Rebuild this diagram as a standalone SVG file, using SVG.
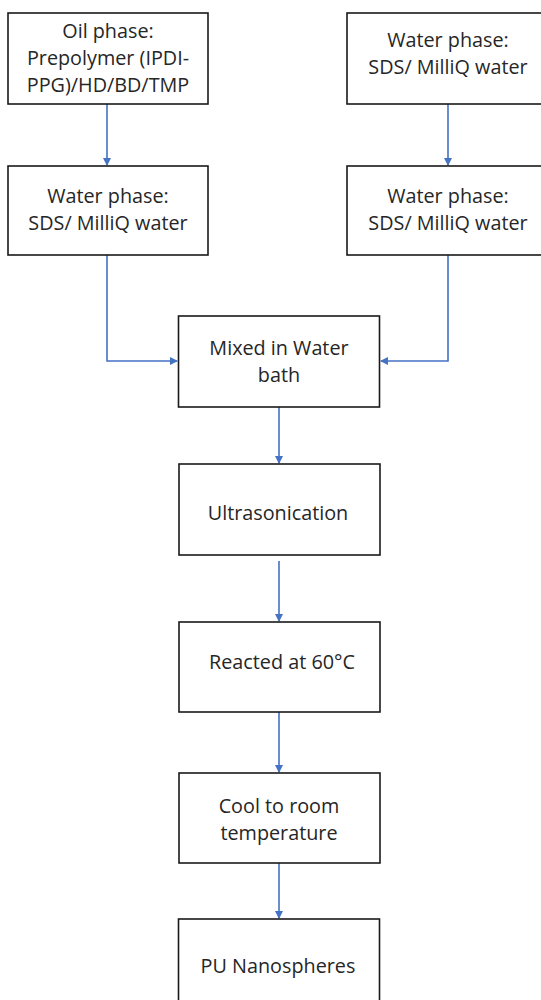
<svg xmlns="http://www.w3.org/2000/svg" width="541" height="1000" viewBox="0 0 541 1000">
<style>
.box{fill:#fff;stroke:#1a1a1a;stroke-width:1.6}
.t{font-family:"Open Sans","Noto Sans",sans-serif;font-size:19.8px;fill:#262626;text-anchor:middle}
.c{fill:none;stroke:#4472C4;stroke-width:1.6}
</style>
<defs>
<marker id="ah" markerWidth="8" markerHeight="8" refX="7" refY="4" orient="auto" markerUnits="userSpaceOnUse">
<path d="M0,0 L8,4 L0,8 Z" fill="#4472C4"/>
</marker>
</defs>
<rect width="541" height="1000" fill="#fff"/>
<g id="connectors">
<path class="c" d="M107,104 V165" marker-end="url(#ah)"/>
<path class="c" d="M448,104 V165" marker-end="url(#ah)"/>
<path class="c" d="M107,255 V361 H177" marker-end="url(#ah)"/>
<path class="c" d="M448,255 V361 H381" marker-end="url(#ah)"/>
<path class="c" d="M279,403 V463" marker-end="url(#ah)"/>
<path class="c" d="M279,561 V621" marker-end="url(#ah)"/>
<path class="c" d="M279,712 V772" marker-end="url(#ah)"/>
<path class="c" d="M279,858 V918" marker-end="url(#ah)"/>
</g>
<g id="oil">
<rect class="box" x="8" y="13" width="200" height="91"/>
<text class="t" x="108" y="38">Oil phase:</text>
<text class="t" x="108" y="65">Prepolymer (IPDI-</text>
<text class="t" x="108" y="92">PPG)/HD/BD/TMP</text>
</g>
<g id="water-left">
<rect class="box" x="8" y="166" width="200" height="89"/>
<text class="t" x="108" y="203">Water phase:</text>
<text class="t" x="108" y="230">SDS/ MilliQ water</text>
</g>
<g id="water-right-1">
<rect class="box" x="347" y="13" width="202" height="91"/>
<text class="t" x="448" y="47">Water phase:</text>
<text class="t" x="448" y="74">SDS/ MilliQ water</text>
</g>
<g id="water-right-2">
<rect class="box" x="347" y="166" width="202" height="89"/>
<text class="t" x="448" y="203">Water phase:</text>
<text class="t" x="448" y="230">SDS/ MilliQ water</text>
</g>
<g id="mixed">
<rect class="box" x="178.5" y="316" width="201" height="91"/>
<text class="t" x="279" y="355">Mixed in Water</text>
<text class="t" x="279" y="382">bath</text>
</g>
<g id="ultra">
<rect class="box" x="179" y="464" width="201" height="91"/>
<text class="t" x="278" y="520">Ultrasonication</text>
</g>
<g id="reacted">
<rect class="box" x="179" y="622" width="201" height="90"/>
<text class="t" x="282" y="669">Reacted at 60°C</text>
</g>
<g id="cool">
<rect class="box" x="179" y="773" width="201" height="90"/>
<text class="t" x="279" y="813">Cool to room</text>
<text class="t" x="279" y="840">temperature</text>
</g>
<g id="pu">
<rect class="box" x="178.5" y="919" width="201" height="100"/>
<text class="t" x="278" y="973">PU Nanospheres</text>
</g>
</svg>
